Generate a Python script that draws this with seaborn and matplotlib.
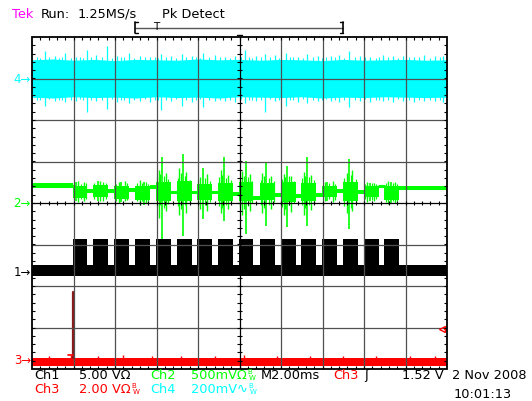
import numpy as np
import pandas as pd
import matplotlib
matplotlib.use("Agg")
import matplotlib.pyplot as plt
import seaborn as sns

# ---------------- data (screen divisions: x 0..10, y -4..4) ----------------
# Ch4 (cyan) noise envelope
cyan_x = [0.0, 0.5, 1.0, 1.5, 2.0, 2.5, 3.0, 3.5, 4.0, 4.5, 5.0,
          5.5, 6.0, 6.5, 7.0, 7.5, 8.0, 8.5, 9.0, 9.5, 10.0]
cyan_hi = [3.45, 3.47, 3.44, 3.46, 3.43, 3.46, 3.45, 3.44, 3.47, 3.45, 3.46,
           3.44, 3.46, 3.45, 3.43, 3.46, 3.44, 3.45, 3.46, 3.44, 3.45]
cyan_lo = [2.55, 2.53, 2.56, 2.54, 2.55, 2.53, 2.56, 2.54, 2.55, 2.53, 2.56,
           2.55, 2.54, 2.56, 2.53, 2.55, 2.54, 2.56, 2.55, 2.54, 2.55]
cyan_spike_x = [0.31, 0.55, 0.80, 1.05, 1.32, 1.55, 1.80, 2.05, 2.34, 2.60,
                2.85, 3.12, 3.35, 3.61, 3.85, 4.13, 4.40, 4.65, 4.90, 5.13,
                5.40, 5.61, 5.85, 6.12, 6.40, 6.62, 6.90, 7.20, 7.40, 7.64,
                7.90, 8.15, 8.45, 8.70, 8.95, 9.20, 9.45, 9.70, 9.90]
cyan_spike_top = [3.66, 3.55, 3.61, 3.53, 3.69, 3.56, 3.78, 3.54, 3.61, 3.55,
                  3.53, 3.59, 3.55, 3.59, 3.54, 3.61, 3.56, 3.53, 3.55, 3.69,
                  3.54, 3.59, 3.56, 3.61, 3.53, 3.59, 3.55, 3.54, 3.56, 3.66,
                  3.55, 3.53, 3.56, 3.54, 3.55, 3.53, 3.56, 3.54, 3.55]
cyan_spike_bot = [2.34, 2.45, 2.44, 2.46, 2.19, 2.45, 2.27, 2.44, 2.42, 2.46,
                  2.44, 2.25, 2.45, 2.34, 2.44, 2.31, 2.46, 2.45, 2.44, 2.40,
                  2.46, 2.19, 2.45, 2.34, 2.44, 2.42, 2.45, 2.46, 2.44, 2.31,
                  2.45, 2.44, 2.46, 2.43, 2.45, 2.44, 2.46, 2.45, 2.44]
# small fuzz on the cyan edges
cyan_fuzz_x = [0.12, 0.20, 0.42, 0.66, 0.72, 0.93, 1.15, 1.22, 1.42, 1.68,
               1.92, 2.15, 2.22, 2.46, 2.72, 2.96, 3.04, 3.22, 3.46, 3.72,
               3.96, 4.04, 4.26, 4.52, 4.78, 5.04, 5.24, 5.30, 5.52, 5.74,
               5.96, 6.22, 6.30, 6.52, 6.76, 6.98, 7.08, 7.30, 7.52, 7.78,
               8.02, 8.28, 8.36, 8.58, 8.82, 9.08, 9.32, 9.58, 9.82]
cyan_fuzz_top = [3.51, 3.50, 3.52, 3.50, 3.51, 3.50, 3.52, 3.50, 3.51, 3.52,
                 3.50, 3.51, 3.52, 3.50, 3.51, 3.52, 3.50, 3.51, 3.50, 3.52,
                 3.51, 3.50, 3.52, 3.51, 3.50, 3.52, 3.51, 3.50, 3.51, 3.52,
                 3.50, 3.51, 3.52, 3.50, 3.51, 3.50, 3.52, 3.51, 3.50, 3.52,
                 3.51, 3.50, 3.52, 3.51, 3.50, 3.52, 3.51, 3.50, 3.51]
cyan_fuzz_bot = [2.49, 2.48, 2.50, 2.47, 2.49, 2.48, 2.50, 2.49, 2.47, 2.48,
                 2.50, 2.49, 2.47, 2.48, 2.50, 2.49, 2.48, 2.47, 2.50, 2.49,
                 2.48, 2.50, 2.47, 2.49, 2.48, 2.50, 2.49, 2.47, 2.48, 2.50,
                 2.49, 2.48, 2.47, 2.50, 2.49, 2.48, 2.50, 2.47, 2.49, 2.48,
                 2.50, 2.49, 2.47, 2.48, 2.50, 2.49, 2.48, 2.47, 2.49]

# Ch1 (black) pulse train
ch1_pulse_start = [0.98, 1.47, 1.98, 2.48, 2.99, 3.49, 3.98, 4.48,
                   4.99, 5.49, 6.00, 6.48, 6.99, 7.49, 8.00, 8.48]
ch1_pulse_end = [1.33, 1.83, 2.34, 2.84, 3.35, 3.86, 4.34, 4.84,
                 5.33, 5.86, 6.36, 6.84, 7.35, 7.86, 8.36, 8.84]
ch1_low_band = [-1.76, -1.50]
ch1_high = -0.87

# Ch2 (green) flat parts between bursts
green_flat_x0 = [0.00, 1.33, 1.83, 2.34, 2.84, 3.35, 3.86, 4.34, 4.84,
                 5.33, 5.86, 6.36, 6.84, 7.35, 7.86, 8.36, 8.84]
green_flat_x1 = [0.98, 1.47, 1.98, 2.48, 2.99, 3.49, 3.98, 4.48, 4.99,
                 5.49, 6.00, 6.48, 6.99, 7.49, 8.00, 8.48, 10.0]
green_flat_y = [0.41, 0.30, 0.30, 0.32, 0.39, 0.26, 0.26, 0.26, 0.22,
                0.12, 0.20, 0.18, 0.20, 0.30, 0.27, 0.40, 0.37]
green_flat_half = [0.06, 0.04, 0.04, 0.04, 0.04, 0.04, 0.04, 0.04, 0.04,
                   0.04, 0.04, 0.04, 0.04, 0.04, 0.04, 0.04, 0.05]
# Ch2 bursts (one per Ch1 pulse): dense core
green_burst_lo = [0.12, 0.14, 0.10, 0.08, 0.05, 0.05, 0.08, 0.06,
                  0.04, 0.08, 0.02, 0.06, 0.14, 0.06, 0.14, 0.08]
green_burst_hi = [0.42, 0.44, 0.40, 0.42, 0.50, 0.52, 0.46, 0.48,
                  0.50, 0.48, 0.50, 0.48, 0.42, 0.50, 0.42, 0.42]
green_spike_x = [1.05, 1.60, 2.15, 2.70, 3.13, 3.63, 4.12, 4.63,
                 5.15, 5.64, 6.14, 6.63, 7.10, 7.64, 8.15, 8.65]
green_spike_top = [0.50, 0.52, 0.50, 0.50, 1.10, 1.18, 0.85, 1.10,
                   1.02, 1.00, 0.90, 1.10, 0.50, 1.06, 0.48, 0.50]
green_spike_bot = [0.04, 0.06, 0.02, -0.06, -0.87, -0.79, -0.39, -0.43,
                   -0.75, -0.55, -0.59, -0.55, 0.05, -0.63, 0.04, 0.00]
green_minor_x = [1.10, 1.25, 1.65, 2.10, 2.25, 2.60, 2.75, 3.05, 3.22, 3.55,
                 3.72, 4.05, 4.22, 4.55, 4.72, 5.05, 5.25, 5.55, 5.75, 6.07,
                 6.25, 6.55, 6.72, 7.05, 7.25, 7.58, 7.72, 8.08, 8.25, 8.58, 8.75]
green_minor_top = [0.52, 0.50, 0.54, 0.50, 0.52, 0.55, 0.50, 0.80, 0.72, 0.85,
                   0.75, 0.62, 0.70, 0.80, 0.68, 0.78, 0.70, 0.72, 0.66, 0.70,
                   0.64, 0.75, 0.68, 0.50, 0.52, 0.72, 0.80, 0.50, 0.48, 0.52, 0.50]
green_minor_bot = [0.02, 0.05, 0.04, 0.00, 0.06, -0.05, 0.00, -0.35, -0.20, -0.30,
                   -0.25, -0.15, -0.20, -0.25, -0.15, -0.30, -0.20, -0.25, -0.15, -0.30,
                   -0.22, -0.28, -0.18, 0.05, 0.02, -0.25, -0.20, 0.02, 0.05, -0.02, 0.00]
# finer hairlines inside the bursts
green_hair_x = [1.00, 1.17, 1.30, 1.50, 1.72, 1.78, 2.02, 2.30, 2.52, 2.66,
                2.80, 3.01, 3.09, 3.18, 3.28, 3.51, 3.58, 3.68, 3.80, 4.00,
                4.17, 4.28, 4.50, 4.59, 4.68, 4.80, 5.01, 5.10, 5.20, 5.30,
                5.52, 5.60, 5.70, 5.82, 6.02, 6.10, 6.19, 6.31, 6.50, 6.59,
                6.68, 6.80, 7.15, 7.30, 7.52, 7.68, 7.80, 8.03, 8.20, 8.30,
                8.52, 8.70, 8.80]
green_hair_top = [0.48, 0.46, 0.47, 0.49, 0.50, 0.47, 0.46, 0.48, 0.49, 0.47,
                  0.46, 0.62, 0.70, 0.66, 0.58, 0.60, 0.72, 0.64, 0.56, 0.55,
                  0.60, 0.54, 0.62, 0.68, 0.60, 0.55, 0.58, 0.66, 0.62, 0.52,
                  0.56, 0.64, 0.60, 0.52, 0.58, 0.62, 0.66, 0.54, 0.60, 0.66,
                  0.62, 0.55, 0.47, 0.46, 0.60, 0.68, 0.58, 0.46, 0.48, 0.46,
                  0.47, 0.48, 0.46]
green_hair_bot = [0.08, 0.10, 0.09, 0.10, 0.06, 0.10, 0.06, 0.08, 0.04, 0.06,
                  0.05, -0.10, -0.05, -0.12, -0.02, -0.08, -0.15, -0.05, 0.00, 0.00,
                  -0.05, 0.02, -0.08, -0.12, -0.04, 0.00, -0.10, -0.15, -0.08, 0.00,
                  -0.05, -0.12, -0.06, 0.02, -0.10, -0.14, -0.06, 0.00, -0.06, -0.12,
                  -0.05, 0.00, 0.10, 0.08, -0.08, -0.12, -0.02, 0.10, 0.08, 0.09,
                  0.02, 0.04, 0.05]

# Ch3 (red)
ch3_band = [-3.93, -3.73]
ch3_spike_x = [0.40, 0.93, 1.60, 2.20, 2.90, 3.60, 4.40, 5.10, 5.90, 6.70, 7.50, 8.30, 9.10, 9.70]
ch3_spike_top = [-3.68, -3.66, -3.69, -3.67, -3.69, -3.68, -3.69, -3.67, -3.69, -3.68, -3.69, -3.68, -3.69, -3.68]
ch3_event_x = 0.976
ch3_event_top = -2.14
ch3_trig_level = -3.04

# channel ground markers (div) and labels
marker_labels = ["4", "2", "1", "3"]
marker_levels = [3.01, 0.0, -1.64, -3.78]
marker_colors = ["#00FFFF", "#00FF00", "#000000", "#FF0000"]

# ---------------- figure ----------------
sns.set_theme(style="white")
plt.rcParams["font.family"] = ["DejaVu Sans"]

W, H = 532, 402
fig = plt.figure(figsize=(W / 100, H / 100), dpi=100)
fig.patch.set_facecolor("white")
ax = fig.add_axes([32 / W, 32 / H, 415 / W, 332 / H])
ax.set_xlim(0, 10)
ax.set_ylim(-4, 4)
ax.set_xticks([])
ax.set_yticks([])
for s in ax.spines.values():
    s.set_visible(False)

CY, GR, RD, BK = "#00FFFF", "#00FF00", "#FF0000", "#000000"

# Ch4 cyan
ax.fill_between(cyan_x, cyan_lo, cyan_hi, color=CY, lw=0, zorder=2)
ax.vlines(cyan_spike_x, cyan_spike_bot, cyan_spike_top, color=CY, lw=0.9, zorder=2)
ax.vlines(cyan_fuzz_x, cyan_fuzz_bot, cyan_fuzz_top, color=CY, lw=0.8, zorder=2)

# Ch2 green flat segments via seaborn (one unit per segment)
flat_rows = []
for i, (a, b, yv) in enumerate(zip(green_flat_x0, green_flat_x1, green_flat_y)):
    flat_rows += [{"seg": i, "x": a, "y": yv}, {"seg": i, "x": b, "y": yv}]
flat_df = pd.DataFrame(flat_rows)
sns.lineplot(data=flat_df, x="x", y="y", units="seg", estimator=None,
             color=GR, lw=2.2, ax=ax, zorder=2, legend=False)
for a, b, yv, hh in zip(green_flat_x0, green_flat_x1, green_flat_y, green_flat_half):
    ax.fill_between([a, b], yv - hh, yv + hh, color=GR, lw=0, zorder=2)
for a, b, lo, hi in zip(ch1_pulse_start, ch1_pulse_end, green_burst_lo, green_burst_hi):
    ax.fill_between([a, b], lo, hi, color=GR, lw=0, zorder=2)
ax.vlines(green_spike_x, green_spike_bot, green_spike_top, color=GR, lw=1.2, zorder=2)
ax.vlines(green_minor_x, green_minor_bot, green_minor_top, color=GR, lw=1.0, zorder=2)
ax.vlines(green_hair_x, green_hair_bot, green_hair_top, color=GR, lw=0.9, zorder=2)

# Ch1 black pulses
px, py = [0.0], [ch1_low_band[1]]
for a, b in zip(ch1_pulse_start, ch1_pulse_end):
    px += [a, a, b, b]
    py += [ch1_low_band[1], ch1_high, ch1_high, ch1_low_band[1]]
px.append(10.0)
py.append(ch1_low_band[1])
ax.fill_between(px, ch1_low_band[0], py, color=BK, lw=0, zorder=3)

# Ch3 red
ax.fill_between([0, 10], ch3_band[0], ch3_band[1], color=RD, lw=0, zorder=2)
ax.vlines(ch3_spike_x, ch3_band[1] - 0.05, ch3_spike_top, color=RD, lw=1.0, zorder=2)
ev_df = pd.DataFrame({"x": [ch3_event_x, ch3_event_x], "y": [ch3_band[1], ch3_event_top]})
sns.lineplot(data=ev_df, x="x", y="y", color="#8B1A1A", lw=1.6, ax=ax,
             zorder=3, estimator=None, sort=False)
ax.plot([ch3_event_x - 0.1, ch3_event_x], [-3.66, -3.66], color=RD, lw=1.2, zorder=3)
ax.plot([9.88], [ch3_trig_level], marker="<", ms=5, mfc="none", mec=RD, mew=1.0,
        zorder=6, clip_on=False)
ax.plot([9.92, 10.0], [ch3_trig_level, ch3_trig_level], color=RD, lw=1.0, zorder=6)

# ---------------- graticule (drawn above traces) ----------------
gcol = "#505050"
for xv in range(1, 10):
    if xv != 5:
        ax.axvline(xv, color=gcol, lw=0.9, zorder=5)
for yv in range(-3, 4):
    if yv != 0:
        ax.axhline(yv, color=gcol, lw=0.9, zorder=5)
ax.axvline(5, color=BK, lw=0.9, zorder=5)
ax.axhline(0, color=BK, lw=0.9, zorder=5)
ax.add_patch(plt.Rectangle((0, -4), 10, 8, fill=False, ec=BK, lw=1.3, zorder=6, clip_on=False))

tx = np.arange(0.2, 10.0, 0.2)
ty = np.arange(-3.8, 4.0, 0.2)
dx, dy = 0.06, 0.06
ax.vlines(tx, -dy, dy, color=BK, lw=0.8, zorder=6)
ax.hlines(ty, 5 - dx, 5 + dx, color=BK, lw=0.8, zorder=6)
ax.vlines(tx, 4 - 0.08, 4, color=BK, lw=0.8, zorder=6)
ax.vlines(tx, -4, -4 + 0.08, color=BK, lw=0.8, zorder=6)
ax.hlines(ty, 0, 0.08, color=BK, lw=0.8, zorder=6)
ax.hlines(ty, 10 - 0.08, 10, color=BK, lw=0.8, zorder=6)
# trigger position "T" at top centre
ax.plot([4.93, 5.07], [4.04, 4.04], color=BK, lw=1.0, zorder=6, clip_on=False)

# ---------------- texts ----------------
FS = 9.3

def ftxt(x, y, s, color="black", size=FS, ha="left"):
    return fig.text(x / W, 1 - y / H, s, color=color, fontsize=size,
                    ha=ha, va="center")

ftxt(12, 14, "Tek", "#FF00FF")
ftxt(41, 14, "Run:")
ftxt(78, 14, "1.25MS/s")
ftxt(162, 14, "Pk Detect")

# record bracket
def fline(xs, ys, color="black", lw=1.0):
    fig.add_artist(plt.Line2D([x / W for x in xs], [1 - y / H for y in ys],
                              color=color, lw=lw))

fline([135, 343], [28.8, 28.8], "#555555", 1.0)
fline([135, 135], [23, 34], "black", 1.2)
fline([135, 138], [23, 23]); fline([135, 138], [34, 34])
fline([343, 343], [23, 34], "black", 1.2)
fline([340, 343], [23, 23]); fline([340, 343], [34, 34])
ftxt(156, 26.5, "T", size=7.5, ha="center")

# channel ground markers
for lab, lev, col in zip(marker_labels, marker_levels, marker_colors):
    ypix = 204 - lev * 41.5
    ftxt(31, ypix, lab + "\u2192", col, size=8.5, ha="right")

r1, r2 = 375.5, 389.5
ftxt(34, r1, "Ch1")
ftxt(79, r1, "5.00 V\u03a9")
ftxt(150, r1, "Ch2", GR)
t_ch2 = ftxt(191, r1, "500mV\u03a9", GR)
ftxt(261, r1, "M2.00ms")
ftxt(333, r1, "Ch3", RD)
ftxt(364, r1, "\u0283")
ftxt(402, r1, "1.52 V")
ftxt(452, r1, "2 Nov 2008")

ftxt(34, r2, "Ch3", RD)
t_ch3 = ftxt(79, r2, "2.00 V\u03a9", RD)
ftxt(150, r2, "Ch4", CY)
t_ch4 = ftxt(191, r2, "200mV\u223f", CY)
ftxt(454, 394.5, "10:01:13")

renderer = fig.canvas.get_renderer()
for t, col in [(t_ch2, GR), (t_ch3, RD), (t_ch4, CY)]:
    bb = t.get_window_extent(renderer=renderer)
    fig.text((bb.x1 + 0.5) / W, (bb.y1 - 3.5) / H, "B", color=col, fontsize=5,
             ha="left", va="center")
    fig.text((bb.x1 + 2.5) / W, (bb.y0 + 4.0) / H, "W", color=col, fontsize=5,
             ha="left", va="center")

fig.savefig("out.png", dpi=100, facecolor="white")
